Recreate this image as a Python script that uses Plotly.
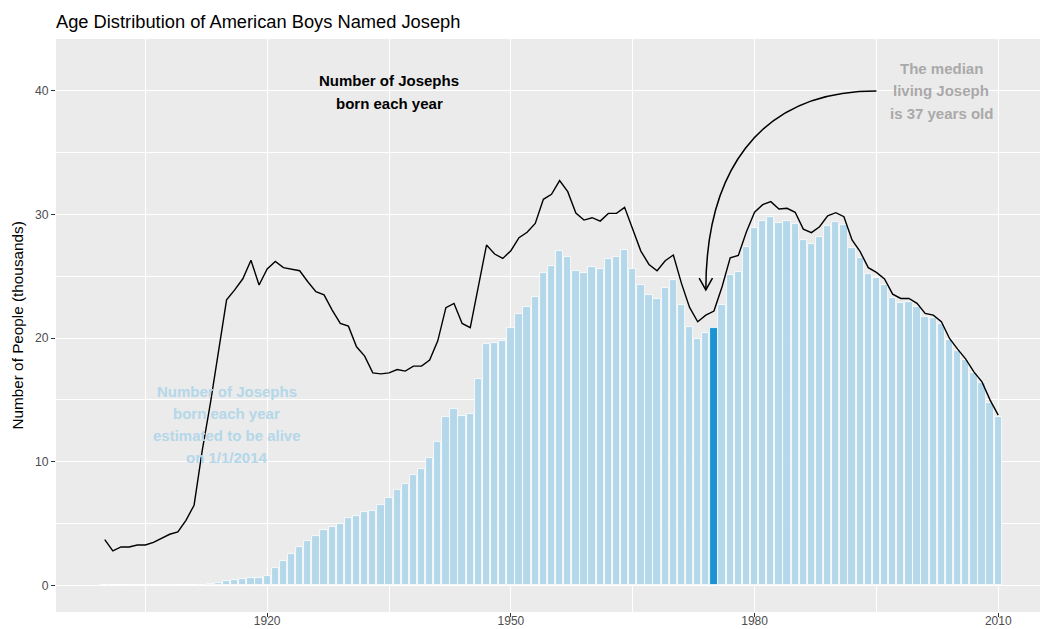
import plotly.graph_objects as go

# Birth years covered by the chart
years = list(range(1900, 2011))

# Josephs born each year (thousands)
born = [
    3.70, 2.78, 3.10, 3.10, 3.26, 3.26, 3.48, 3.81, 4.13, 4.32,      # 1900-1909
    5.26, 6.48, 10.9, 14.7, 18.9, 23.1, 23.9, 24.8, 26.3, 24.3,      # 1910-1919
    25.6, 26.2, 25.7, 25.6, 25.45, 24.56, 23.75, 23.5, 22.27, 21.19, # 1920-1929
    20.97, 19.3, 18.54, 17.19, 17.11, 17.19, 17.46, 17.33, 17.73, 17.73,  # 1930-1939
    18.22, 19.78, 22.46, 22.81, 21.19, 20.84, 24.16, 27.53, 26.8, 26.45,  # 1940-1949
    27.07, 28.12, 28.56, 29.28, 31.23, 31.63, 32.74, 31.85, 30.12, 29.55, # 1950-1959
    29.74, 29.47, 30.09, 30.09, 30.58, 28.74, 27.04, 25.96, 25.45, 26.26, # 1960-1969
    26.72, 24.43, 22.48, 21.32, 21.86, 22.19, 24.16, 26.5, 26.69, 28.61,  # 1970-1979
    30.18, 30.8, 31.04, 30.45, 30.5, 30.18, 28.82, 28.53, 29.01, 29.9,    # 1980-1989
    30.15, 29.82, 27.94, 26.99, 25.7, 25.32, 24.78, 23.56, 23.21, 23.21,  # 1990-1999
    22.81, 22.0, 21.86, 21.32, 19.97, 19.11, 18.3, 17.27, 16.46, 14.98,   # 2000-2009
    13.77,                                                                # 2010
]

# Josephs born each year still estimated to be alive on 1/1/2014 (thousands)
alive = [
    0.01, 0.01, 0.01, 0.01, 0.01, 0.02, 0.02, 0.02, 0.02, 0.03,       # 1900-1909
    0.03, 0.04, 0.06, 0.14, 0.22, 0.32, 0.40, 0.49, 0.58, 0.62,       # 1910-1919
    0.75, 1.38, 1.97, 2.51, 3.10, 3.59, 3.97, 4.45, 4.72, 4.97,       # 1920-1929
    5.43, 5.61, 5.94, 6.02, 6.53, 7.07, 7.69, 8.18, 8.96, 9.45,       # 1930-1939
    10.31, 11.6, 13.63, 14.3, 13.71, 13.9, 16.73, 19.51, 19.57, 19.78,    # 1940-1949
    20.84, 21.94, 22.54, 23.35, 25.24, 25.83, 27.07, 26.59, 25.47, 25.24, # 1950-1959
    25.72, 25.61, 26.37, 26.56, 27.13, 25.61, 24.29, 23.48, 23.16, 24.05, # 1960-1969
    24.67, 22.7, 20.89, 19.89, 20.43, 20.78, 22.7, 25.07, 25.37, 27.34,   # 1970-1979
    28.91, 29.5, 29.8, 29.34, 29.45, 29.2, 27.9, 27.65, 28.19, 29.07,     # 1980-1989
    29.37, 29.12, 27.29, 26.45, 25.18, 24.83, 24.29, 23.21, 22.86, 22.89, # 1990-1999
    22.54, 21.73, 21.65, 21.11, 19.84, 18.97, 18.22, 17.14, 16.38, 14.71, # 2000-2009
    13.63,                                                                # 2010
]

MEDIAN_BIRTH_YEAR = 1975

x_ticks = [1920, 1950, 1980, 2010]
x_minor = [1905, 1935, 1965, 1995]
y_ticks = [0, 10, 20, 30, 40]
y_minor = [5, 15, 25, 35]

LIGHT_BLUE = "#B4D7E9"
DARK_BLUE = "#1C93D3"
GRAY_TEXT = "#A9A9A9"
PANEL = "#EBEBEB"
FONT = "Liberation Sans, Arial, Helvetica, sans-serif"

bar_colors = [DARK_BLUE if y == MEDIAN_BIRTH_YEAR else LIGHT_BLUE for y in years]

fig = go.Figure()

fig.add_trace(go.Bar(
    x=years, y=alive, width=0.9,
    marker=dict(color=bar_colors, line=dict(color="white", width=0.8)),
    hoverinfo="x+y", showlegend=False,
))

fig.add_trace(go.Scatter(
    x=years, y=born, mode="lines",
    line=dict(color="black", width=1.4),
    hoverinfo="x+y", showlegend=False,
))


def add_label(lines, x, y, color, spacing=22.5, size=15):
    n = len(lines)
    for i, line in enumerate(lines):
        fig.add_annotation(
            x=x, y=y, xref="x", yref="y",
            text=f"<b>{line}</b>", showarrow=False,
            xanchor="center", yanchor="middle",
            yshift=((n - 1) / 2 - i) * spacing,
            font=dict(family=FONT, size=size, color=color),
        )


add_label(["Number of Josephs", "born each year"], 1935, 39.9, "black")
add_label(["The median", "living Joseph", "is 37 years old"], 2003, 40.0, GRAY_TEXT)
add_label(["Number of Josephs", "born each year", "estimated to be alive", "on 1/1/2014"],
          1915, 13.0, LIGHT_BLUE, spacing=21.9)

# Curved arrow from the median note down to the median birth year
arrow_start = (1995.0, 40.0)
arrow_end = (1974.0, 23.9)
c1 = (arrow_start[0] - 15.0, arrow_start[1])
c2 = (arrow_end[0], arrow_end[1] + 9.1)
fig.add_shape(
    type="path", xref="x", yref="y",
    path=(f"M {arrow_start[0]},{arrow_start[1]} "
          f"C {c1[0]},{c1[1]} {c2[0]},{c2[1]} {arrow_end[0]},{arrow_end[1]}"),
    line=dict(color="black", width=1.5),
)
head_dx, head_dy = 0.82, 0.95
fig.add_shape(
    type="path", xref="x", yref="y",
    path=(f"M {arrow_end[0] - head_dx},{arrow_end[1] + head_dy} "
          f"L {arrow_end[0]},{arrow_end[1]} "
          f"L {arrow_end[0] + head_dx},{arrow_end[1] + head_dy}"),
    line=dict(color="black", width=1.5),
)

# Y axis title
fig.add_annotation(
    x=-0.0396, y=0.5, xref="paper", yref="paper",
    text="Number of People (thousands)", showarrow=False, textangle=-90,
    xanchor="center", yanchor="middle",
    font=dict(family=FONT, size=15.3, color="black"),
)

fig.update_layout(
    width=1040, height=629, autosize=False,
    margin=dict(l=56, r=0, t=39, b=17, pad=0, autoexpand=False),
    paper_bgcolor="white", plot_bgcolor=PANEL,
    bargap=0, barmode="overlay",
    font=dict(family=FONT),
    title=dict(
        text="Age Distribution of American Boys Named Joseph",
        x=0, xref="paper", xanchor="left",
        y=1 - 21.5 / 629, yref="container", yanchor="middle",
        font=dict(family=FONT, size=18.3, color="black"),
    ),
    xaxis=dict(
        range=[1894.0, 2015.14], tickvals=x_ticks, ticktext=[str(v) for v in x_ticks],
        showgrid=True, gridcolor="white", gridwidth=1.1, zeroline=False,
        ticks="outside", ticklen=4, tickwidth=1, tickcolor="#333333",
        tickfont=dict(family=FONT, size=12, color="#4D4D4D"),
        ticklabelstandoff=-6,
        minor=dict(tickvals=x_minor, showgrid=True, gridcolor="white", gridwidth=0.55, ticks=""),
        showline=False, fixedrange=True, automargin=False,
    ),
    yaxis=dict(
        range=[-2.16, 44.2], tickvals=y_ticks, ticktext=[str(v) for v in y_ticks],
        showgrid=True, gridcolor="white", gridwidth=1.1, zeroline=False,
        ticks="outside", ticklen=4, tickwidth=1, tickcolor="#333333",
        tickfont=dict(family=FONT, size=12.2, color="#4D4D4D"),
        minor=dict(tickvals=y_minor, showgrid=True, gridcolor="white", gridwidth=0.55, ticks=""),
        showline=False, fixedrange=True, automargin=False,
    ),
)

fig.write_html("out.html")
